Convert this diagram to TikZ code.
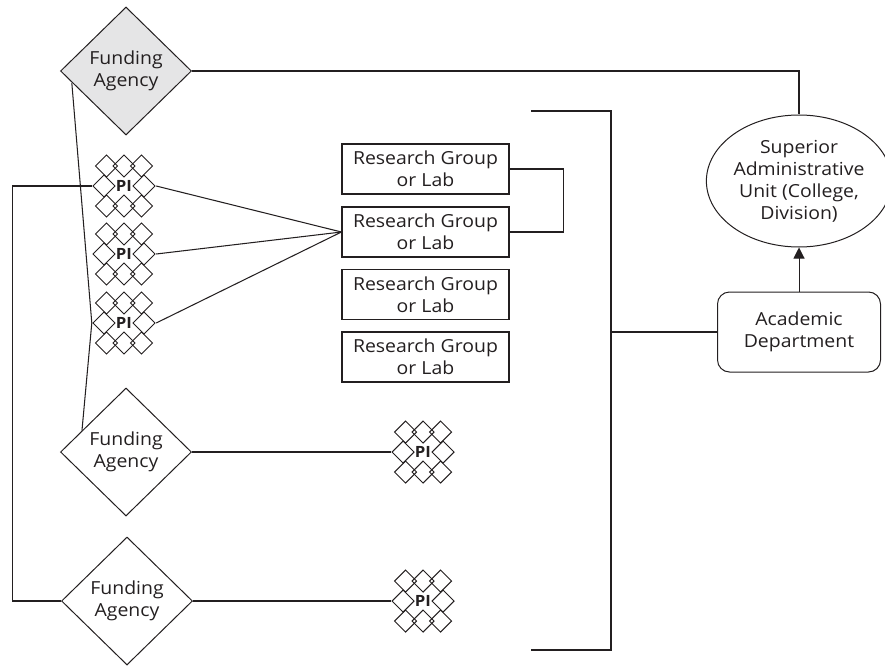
\documentclass[tikz,border=0pt]{standalone}
\usepackage{fontspec}
\setmainfont{Open Sans}[FakeStretch=1.08]
\usepackage{tikz}
\usetikzlibrary{positioning,arrows.meta,shapes.geometric}
\definecolor{ink}{RGB}{35,31,32}
\definecolor{agencygray}{RGB}{229,229,230}
\tikzset{
  txt/.style    = {font=\fontsize{18}{22}\selectfont, align=center,
                   inner sep=0pt, text=ink},
  fund/.style   = {txt, diamond, draw=ink, line width=1pt,
                   minimum width=131pt, minimum height=128pt},
  group/.style  = {txt, rectangle, draw=ink, line width=1.1pt,
                   minimum width=167pt, minimum height=50pt},
  unit/.style   = {txt, ellipse, draw=ink, line width=1pt,
                   minimum width=184pt, minimum height=132pt},
  dept/.style   = {txt, rectangle, rounded corners=12pt, draw=ink,
                   line width=1pt, minimum width=163pt, minimum height=80pt},
  conn/.style   = {draw=ink, line width=1.05pt},
  bracket/.style= {draw=ink, line width=2.6pt},
  arr/.style    = {-{Triangle[length=11pt,width=11pt]}, draw=ink, line width=1pt},
  % Ring aus acht kleinen Rauten um das PI
  pisym/.style  = {minimum width=64pt, minimum height=64pt, inner sep=0pt,
                   text=ink, font=\fontsize{15.5}{16}\selectfont\bfseries,
                   path picture={
                     \foreach \dx/\dy in {-17.5/20, 0/20, 17.5/20, -20/0, 20/0,
                                          -17.5/-20, 0/-20, 17.5/-20}
                       \draw[ink, line width=1.05pt]
                         ([shift={(\dx pt,\dy pt)}]path picture bounding box.center)
                         +(-11pt,0pt) -- +(0pt,11pt) -- +(11pt,0pt) -- +(0pt,-11pt) -- cycle;
                   }}
}

\begin{document}
\begin{tikzpicture}[x=1pt, y=-1pt]
  \useasboundingbox (0,0) rectangle (885,666);

  % Geldgeber
  \node[fund, fill=agencygray] (fa1) at (126,71)  {Funding\\Agency};
  \node[fund]                  (fa2) at (126,452) {Funding\\Agency};
  \node[fund]                  (fa3) at (127,601) {Funding\\Agency};

  % PIs
  \node[pisym] (pi1) at (124,186) {PI};
  \node[pisym] (pi2) at (124,254) {PI};
  \node[pisym] (pi3) at (124,323) {PI};
  \node[pisym] (pi4) at (423,452) {PI};
  \node[pisym] (pi5) at (423,601) {PI};

  % Forschungsgruppen
  \node[group] (rg1) at (425.5,169)   {Research Group\\or Lab};
  \node[group] (rg2) at (425.5,232)   {Research Group\\or Lab};
  \node[group] (rg3) at (425.5,294.5) {Research Group\\or Lab};
  \node[group] (rg4) at (425.5,357)   {Research Group\\or Lab};

  \node[unit] (admin) at (799,181) {Superior\\Administrative\\Unit (College,\\Division)};
  \node[dept] (acad)  at (799,332) {Academic\\Department};

  % Klammer
  \coordinate (btop) at (531,111);
  \coordinate (bbot) at (531,650);
  \coordinate (bmid) at (611,332);
  \draw[bracket] (btop) -- (611,111) -- (611,650) -- (bbot);
  \draw[bracket] (bmid) -- (acad.west);

  \draw[arr] (acad.north) -- (admin.south);
  \draw[conn] (fa1.east) -| (admin.north);

  \draw[conn] (fa1.192) -- (pi3.west) -- (fa2.154);
  \draw[conn] (pi1.west) -- ++(-79,0) |- (fa3.west);
  \foreach \p in {pi1,pi2,pi3}
    \draw[conn] (\p.east) -- (rg2.west);
  \draw[conn] (rg1.east) -- ++(54,0) |- (rg2.east);
  \draw[conn] (fa2.east) -- (pi4.west);
  \draw[conn] (fa3.east) -- (pi5.west);
\end{tikzpicture}
\end{document}
